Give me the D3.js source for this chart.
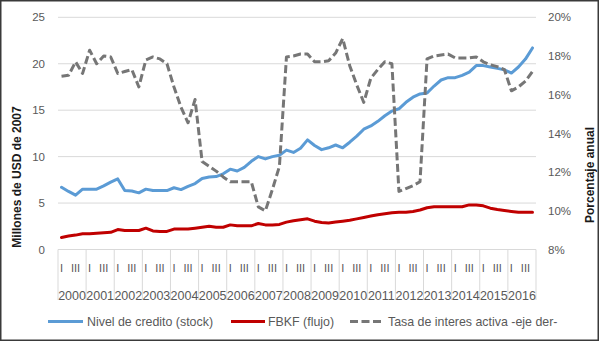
<!DOCTYPE html>
<html><head><meta charset="utf-8">
<script src="https://cdn.jsdelivr.net/npm/d3@7"></script>
<style>
html,body{margin:0;padding:0;background:#fff;}
svg{display:block;font-family:"Liberation Sans",Arial,sans-serif;}
</style></head>
<body><svg id="c" width="600" height="342"></svg>
<script>
const years = ["2000","2001","2002","2003","2004","2005","2006","2007","2008","2009","2010","2011","2012","2013","2014","2015","2016"];
const quarterLabels = ["I","II","III","IV"];
const leftTicks = [0,5,10,15,20,25];
const rightTicks = [8,10,12,14,16,18,20];
const seriesNames = ["Nivel de credito (stock)","FBKF (flujo)","Tasa de interes activa -eje der-"];

// Nivel de credito (stock), millones de USD de 2007, quarterly 2000-I .. 2016-IV
const credito = [
 6.7,6.25,5.85,6.5, 6.5,6.5,6.85,7.25, 7.6,6.35,6.3,6.1, 6.5,6.35,6.35,6.35,
 6.65,6.45,6.8,7.1, 7.65,7.8,7.85,8.15, 8.65,8.45,8.85,9.5, 10.0,9.75,10.0,10.15,
 10.7,10.45,10.9,11.8, 11.2,10.75,10.95,11.25, 10.95,11.55,12.2,12.95, 13.3,13.8,14.4,14.9,
 15.15,15.85,16.4,16.75, 16.85,17.6,18.25,18.5, 18.5,18.75,19.1,19.8, 19.8,19.65,19.5,19.35,
 19.0,19.65,20.5,21.7];
// FBKF (flujo)
const fbkf = [
 1.3,1.45,1.55,1.7, 1.7,1.75,1.8,1.85, 2.15,2.05,2.05,2.05, 2.3,2.0,1.95,1.95,
 2.2,2.2,2.2,2.3, 2.4,2.5,2.4,2.4, 2.65,2.55,2.55,2.55, 2.8,2.65,2.65,2.7,
 2.95,3.1,3.2,3.3, 3.05,2.9,2.85,2.95, 3.05,3.15,3.3,3.45, 3.6,3.75,3.85,3.95,
 4.0,4.0,4.1,4.25, 4.5,4.6,4.6,4.6, 4.6,4.6,4.8,4.8, 4.7,4.45,4.3,4.2,
 4.1,4.0,4.0,4.0];
// Tasa de interes activa (%), eje derecho
const tasa = [
 16.95,17.0,17.7,17.1, 18.3,17.6,18.0,17.95, 17.1,17.2,17.3,16.4, 17.8,17.95,17.85,17.6,
 16.4,15.35,14.55,15.75, 12.55,12.3,12.05,11.75, 11.5,11.5,11.5,11.5, 10.2,10.0,11.1,12.3,
 17.95,18.0,18.1,18.1, 17.7,17.7,17.75,18.15, 18.9,17.5,16.5,15.6, 16.85,17.3,17.7,17.6,
 11.0,11.15,11.3,11.5, 17.85,18.0,18.05,18.1, 17.9,17.9,17.9,17.95, 17.7,17.55,17.45,17.3,
 16.2,16.4,16.7,17.2];

const svg = d3.select("#c");
const L = 58, R = 536, T = 17.3, B = 249.5;
const txt = "#595959", grid = "#d9d9d9";

// frame
svg.append("rect").attr("x",0.75).attr("y",0.75).attr("width",597.5).attr("height",339.5)
  .attr("fill","#fff").attr("stroke","#3a3a3a").attr("stroke-width",1.5);

const cats = d3.range(years.length*4);
const x = d3.scaleBand().domain(cats).range([L,R]).paddingInner(0).paddingOuter(0);
const xYear = d3.scaleBand().domain(years).range([L,R]);
const yL = d3.scaleLinear().domain([0,25]).range([B,T]);
const yR = d3.scaleLinear().domain([8,20]).range([B,T]);
const cx = i => x(i) + x.bandwidth()/2;

// gridlines
svg.append("g").selectAll("line").data(leftTicks.filter(d=>d>0)).join("line")
  .attr("x1",L).attr("x2",R).attr("y1",d=>yL(d)).attr("y2",d=>yL(d))
  .attr("stroke",grid).attr("stroke-width",1);

// left axis
const gl = svg.append("g").attr("transform",`translate(${L-13},0)`)
  .call(d3.axisLeft(yL).tickValues(leftTicks).tickSize(0).tickPadding(0));
gl.select(".domain").remove();
gl.selectAll("text").attr("fill",txt).style("font-size","11.5px").style("font-family","'Liberation Sans',Arial,sans-serif");

// right axis
const gr = svg.append("g").attr("transform",`translate(${R+12},0)`)
  .call(d3.axisRight(yR).tickValues(rightTicks).tickSize(0).tickPadding(0).tickFormat(d=>d+"%"));
gr.select(".domain").remove();
gr.selectAll("text").attr("fill",txt).style("font-size","11.5px").style("font-family","'Liberation Sans',Arial,sans-serif");

// x axis line
svg.append("line").attr("x1",L).attr("x2",R).attr("y1",B).attr("y2",B).attr("stroke",grid).attr("stroke-width",1);
// year separators
const bounds = years.map(y=>xYear(y)).concat([R]);
svg.append("g").selectAll("line").data(bounds).join("line")
  .attr("x1",d=>d).attr("x2",d=>d).attr("y1",B).attr("y2",300)
  .attr("stroke",grid).attr("stroke-width",1);
// quarter labels (every other shown)
svg.append("g").selectAll("text").data(cats.filter(i=>i%2===0)).join("text")
  .attr("x",cx).attr("y",272).attr("text-anchor","middle").attr("fill",txt)
  .style("font-size","11px").text(i=>quarterLabels[i%4]);
// year labels
svg.append("g").selectAll("text").data(years).join("text")
  .attr("x",d=>xYear(d)+xYear.bandwidth()/2).attr("y",299.5).attr("text-anchor","middle").attr("fill",txt)
  .style("font-size","12.5px").text(d=>d);

// axis titles
svg.append("text").attr("transform","translate(21,177) rotate(-90)").attr("text-anchor","middle")
  .attr("fill","#1a1a1a").style("font-size","12px").style("font-weight","bold").text("Millones de USD de 2007");
svg.append("text").attr("transform","translate(594,175) rotate(-90)").attr("text-anchor","middle")
  .attr("fill","#1a1a1a").style("font-size","12px").style("font-weight","bold").text("Porcentaje anual");

// series
const lineL = d3.line().x((d,i)=>cx(i)).y(d=>yL(d));
const lineR = d3.line().x((d,i)=>cx(i)).y(d=>yR(d));
svg.append("path").datum(credito).attr("d",lineL).attr("fill","none")
  .attr("stroke","#5b9bd5").attr("stroke-width",3).attr("stroke-linejoin","round").attr("stroke-linecap","round");
svg.append("path").datum(fbkf).attr("d",lineL).attr("fill","none")
  .attr("stroke","#c00000").attr("stroke-width",3).attr("stroke-linejoin","round").attr("stroke-linecap","round");
svg.append("path").datum(tasa).attr("d",lineR).attr("fill","none")
  .attr("stroke","#767676").attr("stroke-width",3).attr("stroke-dasharray","8,3.5").attr("stroke-linejoin","round");

// legend
const legend = [
  {name:seriesNames[0], color:"#5b9bd5", dash:null, x0:48, x1:83, tx:87},
  {name:seriesNames[1], color:"#c00000", dash:null, x0:231, x1:265, tx:268},
  {name:seriesNames[2], color:"#767676", dash:"8,3.5", x0:350, x1:383, tx:388}
];
const ly = 321.5;
const lg = svg.append("g").selectAll("g").data(legend).join("g");
lg.append("line").attr("x1",d=>d.x0).attr("x2",d=>d.x1).attr("y1",ly).attr("y2",ly)
  .attr("stroke",d=>d.color).attr("stroke-width",3).attr("stroke-dasharray",d=>d.dash);
lg.append("text").attr("x",d=>d.tx).attr("y",ly+4.5).attr("fill",txt).style("font-size","12.4px").text(d=>d.name);
</script></body></html>
